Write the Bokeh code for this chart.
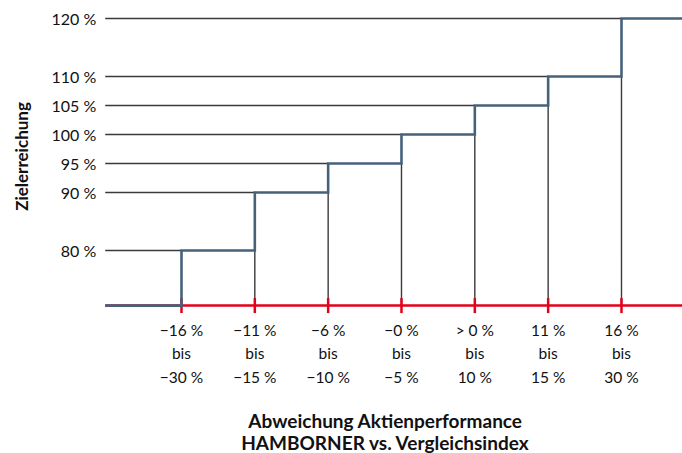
import math
from bokeh.plotting import figure
from bokeh.models import Range1d, Label
from bokeh.core.properties import value
from bokeh.embed import file_html
from bokeh.resources import INLINE

# ---- data ----
levels = [80, 90, 95, 100, 105, 110, 120]
level_labels = ["80 %", "90 %", "95 %", "100 %", "105 %", "110 %", "120 %"]
cat_top = ["\u221216 %", "\u221211 %", "\u22126 %", "\u22120 %", "> 0 %", "11 %", "16 %"]
cat_mid = ["bis", "bis", "bis", "bis", "bis", "bis", "bis"]
cat_bot = ["\u221230 %", "\u221215 %", "\u221210 %", "\u22125 %", "10 %", "15 %", "30 %"]
base = 70.5
x_left = -1.04
x_right = 6.832

FONT = "Lato"
GRID = "#3a3a3a"
STEP = "#46627b"
RED = "#e3001b"
TXT = "#111111"

p = figure(width=682, height=453, x_range=Range1d(-2.468, 6.832), y_range=Range1d(45.0, 123.1),
           x_axis_type=None, y_axis_type=None, min_border=0, outline_line_color=None,
           toolbar_location=None, output_backend="svg")
p.grid.visible = False

pos = list(range(len(levels)))

# horizontal reference lines from the left edge to each step
p.segment(x0=[x_left] * len(levels), y0=levels, x1=pos, y1=levels, line_color=GRID, line_width=1.4)
# vertical lines from baseline to previous level
p.segment(x0=pos[1:], y0=[base] * (len(levels) - 1), x1=pos[1:], y1=levels[:-1],
          line_color=GRID, line_width=1.4)

# red baseline and ticks
p.segment(x0=[x_left], y0=[base], x1=[x_right], y1=[base], line_color=RED, line_width=2.5)
p.scatter(x=pos, y=[base] * len(pos), marker="dash", size=15, angle=math.pi / 2,
          line_color=RED, line_width=2.5)

# step line
xs = [x_left]
ys = [base]
prev = base
for i, lv in zip(pos, levels):
    xs += [i, i]
    ys += [prev, lv]
    prev = lv
xs.append(x_right)
ys.append(prev)
p.line(xs, ys, line_color=STEP, line_width=2.6, line_join="miter")

# y tick labels
p.text(x=[x_left] * len(levels), y=levels, text=level_labels, x_offset=-9,
       text_align="right", text_baseline="middle", text_font=value(FONT),
       text_font_size="16px", text_color=TXT)

# x category labels
for txt, off in ((cat_top, 24), (cat_mid, 47), (cat_bot, 71)):
    p.text(x=pos, y=[base] * len(pos), text=txt, y_offset=off, text_align="center",
           text_baseline="middle", text_font=value(FONT), text_font_size="15.5px",
           text_color=TXT)

# axis titles
p.add_layout(Label(x=385, y=33, x_units="screen", y_units="screen",
                   text="Abweichung Aktienperformance", text_align="center",
                   text_baseline="middle", text_font=FONT, text_font_style="bold",
                   text_font_size="19px", text_color=TXT))
p.add_layout(Label(x=385, y=11, x_units="screen", y_units="screen",
                   text="HAMBORNER vs. Vergleichsindex", text_align="center",
                   text_baseline="middle", text_font=FONT, text_font_style="bold",
                   text_font_size="19px", text_color=TXT))
p.add_layout(Label(x=21, y=297, x_units="screen", y_units="screen",
                   text="Zielerreichung", angle=math.pi / 2, text_align="center",
                   text_baseline="middle", text_font=FONT, text_font_style="bold",
                   text_font_size="17px", text_color=TXT))

open("out.html", "w").write(file_html(p, INLINE))
